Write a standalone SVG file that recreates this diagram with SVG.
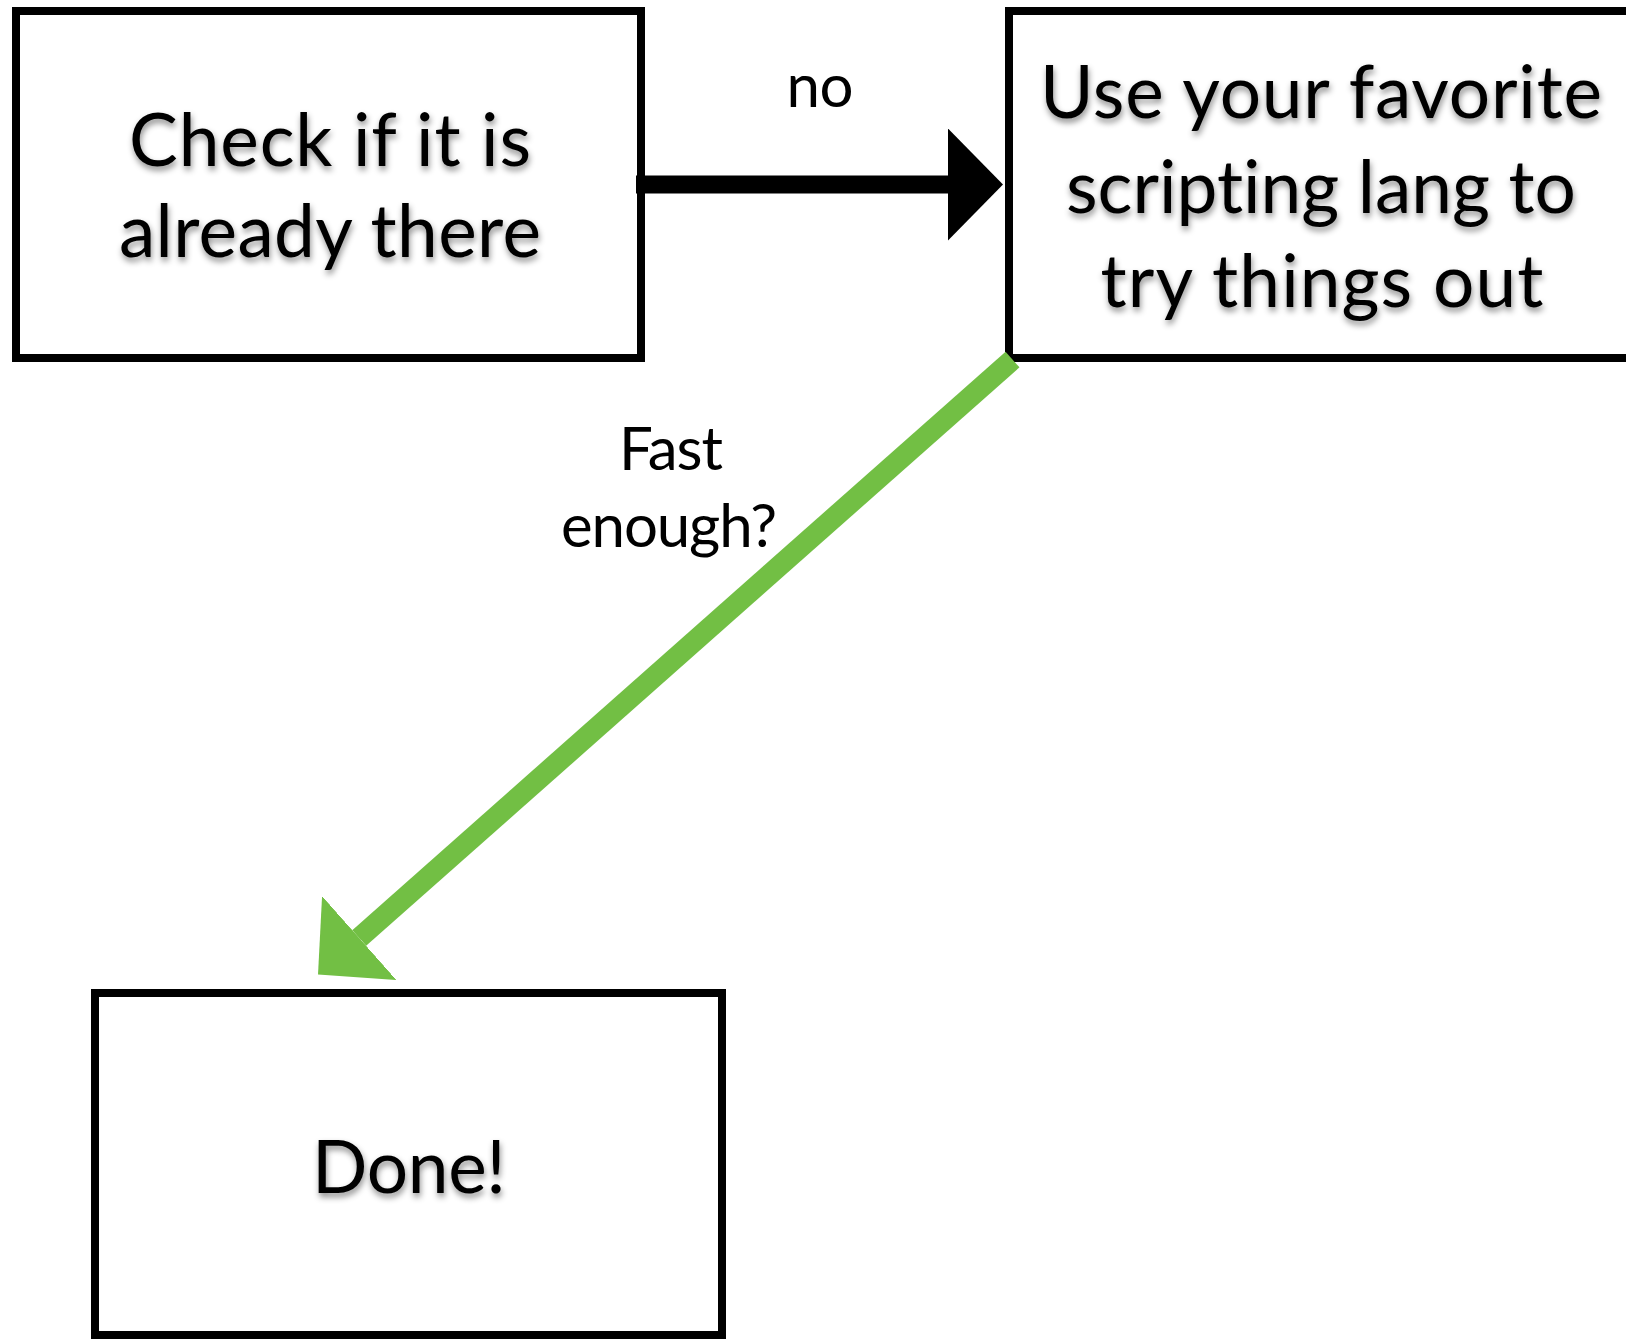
<svg xmlns="http://www.w3.org/2000/svg" width="1626" height="1339" viewBox="0 0 1626 1339">
  <style>
    .box { fill: #ffffff; stroke: #000000; stroke-width: 8; }
    .main { font-family: Lato, "Open Sans", "Liberation Sans", sans-serif; font-size: 73px; fill: #000000; text-anchor: middle; filter: url(#shadow); font-variant-ligatures: none; font-feature-settings: "liga" 0, "clig" 0; }
    .lbl { font-family: Lato, "Open Sans", "Liberation Sans", sans-serif; font-size: 60px; fill: #000000; text-anchor: middle; font-variant-ligatures: none; }
  </style>
  <defs>
    <filter id="shadow" x="-10%" y="-30%" width="120%" height="160%">
      <feDropShadow dx="1" dy="4" stdDeviation="3" flood-color="#000000" flood-opacity="0.45"/>
    </filter>
    <marker id="headBlack" markerUnits="userSpaceOnUse" markerWidth="55" markerHeight="112" viewBox="0 0 55 112" refX="0" refY="56" orient="auto">
      <path d="M0,0 L55,56 L0,112 Z" fill="#000000"/>
    </marker>
    <marker id="headGreen" markerUnits="userSpaceOnUse" markerWidth="55" markerHeight="112" viewBox="0 0 55 112" refX="0" refY="56" orient="auto">
      <path d="M0,0 L55,56 L0,112 Z" fill="#72bf44"/>
    </marker>
  </defs>
  <rect width="1626" height="1339" fill="#ffffff"/>

  <g id="node-check">
    <rect class="box" x="16" y="11" width="625" height="347"/>
    <text class="main" x="330" y="166" textLength="402">Check if it is</text>
    <text class="main" x="330" y="257" textLength="422">already there</text>
  </g>

  <g id="node-script">
    <rect class="box" x="1009" y="11" width="660" height="347"/>
    <text class="main" x="1321" y="118" textLength="562">Use your favorite</text>
    <text class="main" x="1321" y="213" textLength="510">scripting lang to</text>
    <text class="main" x="1322" y="307" textLength="443">try things out</text>
  </g>

  <g id="node-done">
    <rect class="box" x="95" y="993" width="627" height="342"/>
    <text class="main" x="409" y="1193" textLength="194">Done!</text>
  </g>

  <g id="connectors">
    <line x1="636" y1="184.5" x2="948" y2="184.5" stroke="#000000" stroke-width="18" marker-end="url(#headBlack)"/>
    <text class="lbl" x="820" y="107" textLength="67">no</text>
    <line x1="1012.5" y1="359.5" x2="359.2" y2="938" stroke="#72bf44" stroke-width="21" marker-end="url(#headGreen)"/>
    <text class="lbl" x="671" y="470" textLength="104">Fast</text>
    <text class="lbl" x="669" y="547" textLength="216">enough?</text>
  </g>
</svg>
